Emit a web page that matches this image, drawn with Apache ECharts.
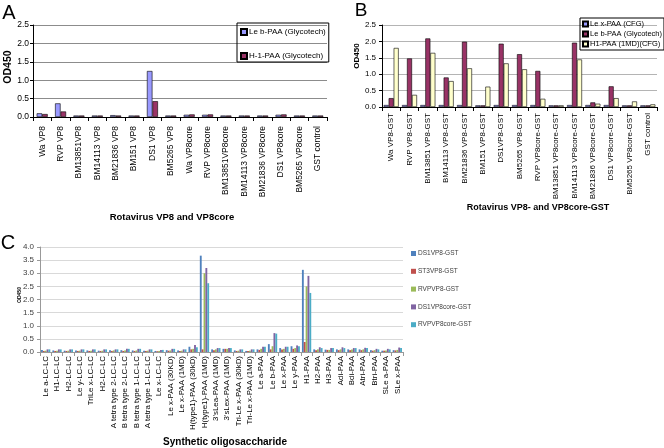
<!DOCTYPE html>
<html><head><meta charset="utf-8">
<script src="https://cdn.jsdelivr.net/npm/echarts@6/dist/echarts.min.js"></script>
<style>html,body{margin:0;padding:0;background:#fff}#c{width:664px;height:448px}</style>
</head><body><div id="c"></div>
<script>
const catsA = ['Wa VP8','RVP VP8','BM13851VP8','BM14113 VP8','BM21836 VP8','BM151 VP8','DS1 VP8','BM5265 VP8','Wa VP8core','RVP VP8core','BM13851VP8core','BM14113 VP8core','BM21836 VP8core','DS1 VP8core','BM5265 VP8core','GST control'];
const aLeb = [0.10,0.37,0.04,0.04,0.05,0.04,1.25,0.04,0.06,0.06,0.04,0.04,0.04,0.06,0.04,0.04];
const aH1  = [0.08,0.15,0.04,0.04,0.04,0.04,0.43,0.04,0.07,0.07,0.04,0.04,0.04,0.07,0.04,0.04];

const catsB = ['Wa VP8-GST','RVP VP8-GST','BM13851 VP8-GST','BM14113 VP8-GST','BM21836 VP8-GST','BM151 VP8-GST','DS1VP8-GST','BM5265 VP8-GST','RVP VP8core-GST','BM13851 VP8core-GST','BM14113 VP8core-GST','BM21836 VP8core-GST','DS1 VP8core-GST','BM5265 VP8core-GST','GST control'];
const bLex = [0.06,0.06,0.06,0.06,0.06,0.05,0.06,0.06,0.06,0.05,0.06,0.06,0.06,0.05,0.05];
const bLeb = [0.27,1.48,2.09,0.90,1.99,0.05,1.93,1.61,1.10,0.05,1.96,0.14,0.63,0.05,0.05];
const bH1  = [1.80,0.37,1.65,0.79,1.18,0.62,1.33,1.15,0.25,0.05,1.45,0.10,0.27,0.17,0.08];

const catsC = ['Le a-LC-LC','H1-LC-LC','H2-LC-LC','Le y-LC-LC','TriLe x-LC-LC','H2-LC-LC','A tetra type 2-LC-LC','B tetra type 2-LC-LC','B tetra type 1-LC-LC','A tetra type 1-LC-LC','Le x-LC-LC','Le x-PAA (30KD)','Le x-PAA (1MD)','H(type1)-PAA (30kD)','H(type1)-PAA (1MD)',"3'sLea-PAA (1MD)","3'sLex-PAA (1MD)",'Tri-Le x-PAA (30kD)','Tri-Le x-PAA (1MD)','Le a-PAA','Le b-PAA','Le x-PAA','Le y-PAA','H1-PAA','H2-PAA','H3-PAA','Adi-PAA','Bdi-PAA','Atri-PAA','Btri-PAA','SLe a-PAA','SLe x-PAA'];
const cDS1   = [0.08,0.06,0.05,0.06,0.06,0.05,0.07,0.07,0.06,0.05,0.04,0.07,0.06,0.20,3.67,0.10,0.12,0.06,0.04,0.10,0.30,0.15,0.22,3.13,0.10,0.09,0.10,0.10,0.10,0.07,0.05,0.07];
const cST3   = [0.04,0.04,0.04,0.04,0.04,0.04,0.04,0.04,0.04,0.04,0.03,0.05,0.04,0.10,0.10,0.07,0.12,0.04,0.04,0.08,0.10,0.10,0.12,0.38,0.07,0.08,0.07,0.07,0.07,0.05,0.05,0.06];
const cRVP   = [0.05,0.05,0.05,0.05,0.05,0.05,0.06,0.06,0.06,0.05,0.04,0.06,0.05,0.12,3.00,0.10,0.12,0.05,0.05,0.12,0.22,0.12,0.15,2.50,0.10,0.08,0.10,0.10,0.10,0.07,0.06,0.08];
const cDS1c  = [0.10,0.10,0.10,0.10,0.10,0.10,0.10,0.12,0.12,0.10,0.08,0.12,0.10,0.27,3.20,0.15,0.15,0.10,0.10,0.20,0.72,0.20,0.25,2.90,0.18,0.15,0.18,0.15,0.16,0.12,0.12,0.17];
const cRVPc  = [0.10,0.10,0.10,0.10,0.10,0.10,0.10,0.12,0.12,0.10,0.08,0.12,0.10,0.18,2.62,0.15,0.15,0.10,0.10,0.20,0.70,0.20,0.22,2.25,0.15,0.15,0.15,0.15,0.15,0.10,0.10,0.15];

const F = "'Liberation Sans', Arial, sans-serif";
const chart = echarts.init(document.getElementById('c'), null, {renderer:'canvas'});

function yAx(gi, max, interval, fs, gridColor, lblColor, axColor, margin){
  return {gridIndex:gi, type:'value', min:0, max:max, interval:interval,
    axisLine:{show:true, lineStyle:{color:axColor, width:1}},
    axisTick:{show:true, length:3, lineStyle:{color:axColor}},
    axisLabel:{fontFamily:F, fontSize:fs, color:lblColor, margin:margin, formatter:v=>v.toFixed(1)},
    splitLine:{show:true, lineStyle:{color:gridColor, width:1}}};
}
function xAx(gi, cats, fs, axColor, margin){
  return {gridIndex:gi, type:'category', data:cats, boundaryGap:true,
    axisLine:{show:true, lineStyle:{color:axColor, width:1}},
    axisTick:{show:true, length:4, interval:0, alignWithLabel:false, lineStyle:{color:axColor}},
    axisLabel:{interval:0, rotate:90, fontFamily:F, fontSize:fs, color:'#000', margin:margin}};
}
const barBorder = {borderColor:'#000', borderWidth:0.6};
function bar(name, data, xi, color, border){
  return {name:name, type:'bar', xAxisIndex:xi, yAxisIndex:xi, data:data,
    itemStyle:Object.assign({color:color}, border?barBorder:{}), animation:false};
}

const option = {
  animation:false,
  grid:[
    {left:33, top:25, width:294, height:92},
    {left:382, top:25, width:275, height:82},
    {left:40, top:247, width:363, height:105}
  ],
  xAxis:[ xAx(0, catsA, 8.5, '#000', 9), xAx(1, catsB, 8, '#000', 6), xAx(2, catsC, 7.9, '#999', 4) ],
  yAxis:[ yAx(0, 2.5, 0.5, 8.5, '#8c8c8c', '#000', '#000', 4),
          yAx(1, 2.5, 0.5, 8, '#b4b4b4', '#000', '#000', 6),
          yAx(2, 4.0, 0.5, 8, '#d9d9d9', '#404040', '#999', 6) ],
  legend:[
    {data:['Le b-PAA (Glycotech)','H-1-PAA (Glycotech)'], orient:'vertical', left:237, top:23,
     itemWidth:6, itemHeight:6, itemGap:16, padding:[5,3,2,3], borderColor:'#000', borderWidth:1,
     textStyle:{fontFamily:F, fontSize:8, color:'#000', padding:[0,0,0,-3]}, icon:'rect', selectedMode:false},
    {data:['Le x-PAA (CFG)','Le b-PAA  (Glycotech)','H1-PAA (1MD)(CFG)'], orient:'vertical', left:580, top:18,
     itemWidth:5, itemHeight:5, itemGap:2, padding:[2,2,2,2], borderColor:'#000', borderWidth:1,
     formatter:n=>n.replace('  ',' '),
     textStyle:{fontFamily:F, fontSize:7.5, color:'#000', padding:[0,0,0,-3]}, icon:'rect', selectedMode:false},
    {data:['DS1VP8-GST','ST3VP8-GST','RVPVP8-GST','DS1VP8core-GST','RVPVP8core-GST'], orient:'vertical', left:411, top:250,
     itemWidth:5, itemHeight:5, itemGap:10.8, padding:0,
     textStyle:{fontFamily:F, fontSize:6.5, color:'#404040', padding:[0,0,0,-3]}, icon:'rect', selectedMode:false}
  ],
  series:[
    Object.assign(bar('Le b-PAA (Glycotech)', aLeb, 0, '#9999ff', true), {barGap:'0%', barCategoryGap:'40%'}),
    bar('H-1-PAA (Glycotech)', aH1, 0, '#993366', true),
    Object.assign(bar('Le x-PAA (CFG)', bLex, 1, '#9999ff', true), {barGap:'0%', barCategoryGap:'18%'}),
    bar('Le b-PAA  (Glycotech)', bLeb, 1, '#993366', true),
    bar('H1-PAA (1MD)(CFG)', bH1, 1, '#ffffcc', true),
    Object.assign(bar('DS1VP8-GST', cDS1, 2, '#4f81bd', false), {barGap:'0%', barCategoryGap:'18%'}),
    bar('ST3VP8-GST', cST3, 2, '#c0504d', false),
    bar('RVPVP8-GST', cRVP, 2, '#9bbb59', false),
    bar('DS1VP8core-GST', cDS1c, 2, '#8064a2', false),
    bar('RVPVP8core-GST', cRVPc, 2, '#4bacc6', false)
  ],
  graphic:[
    {type:'text', x:9, y:13, style:{text:'A', fontFamily:F, fontSize:20, fill:'#000', textAlign:'center', textVerticalAlign:'middle'}},
    {type:'text', x:361, y:11, style:{text:'B', fontFamily:F, fontSize:19, fill:'#000', textAlign:'center', textVerticalAlign:'middle'}},
    {type:'text', x:8, y:243, style:{text:'C', fontFamily:F, fontSize:20, fill:'#000', textAlign:'center', textVerticalAlign:'middle'}},
    {type:'text', x:8.5, y:67, rotation:Math.PI/2, style:{text:'OD450', fontFamily:F, fontSize:10.5, fontWeight:'bold', fill:'#000', textAlign:'center', textVerticalAlign:'middle'}},
    {type:'text', x:357, y:56, rotation:Math.PI/2, style:{text:'OD450', fontFamily:F, fontSize:8, fontWeight:'bold', fill:'#000', textAlign:'center', textVerticalAlign:'middle'}},
    {type:'text', x:20, y:295, rotation:Math.PI/2, style:{text:'OD450', fontFamily:F, fontSize:5, fontWeight:'bold', fill:'#000', textAlign:'center', textVerticalAlign:'middle'}},
    {type:'text', x:172, y:217, style:{text:'Rotavirus VP8 and VP8core', fontFamily:F, fontSize:9.5, fontWeight:'bold', fill:'#000', textAlign:'center', textVerticalAlign:'middle'}},
    {type:'text', x:538, y:208, style:{text:'Rotavirus VP8- and VP8core-GST', fontFamily:F, fontSize:9, fontWeight:'bold', fill:'#000', textAlign:'center', textVerticalAlign:'middle'}},
    {type:'text', x:225, y:442, style:{text:'Synthetic oligosaccharide', fontFamily:F, fontSize:10, fontWeight:'bold', fill:'#000', textAlign:'center', textVerticalAlign:'middle'}}
  ]
};
chart.setOption(option);
</script></body></html>
